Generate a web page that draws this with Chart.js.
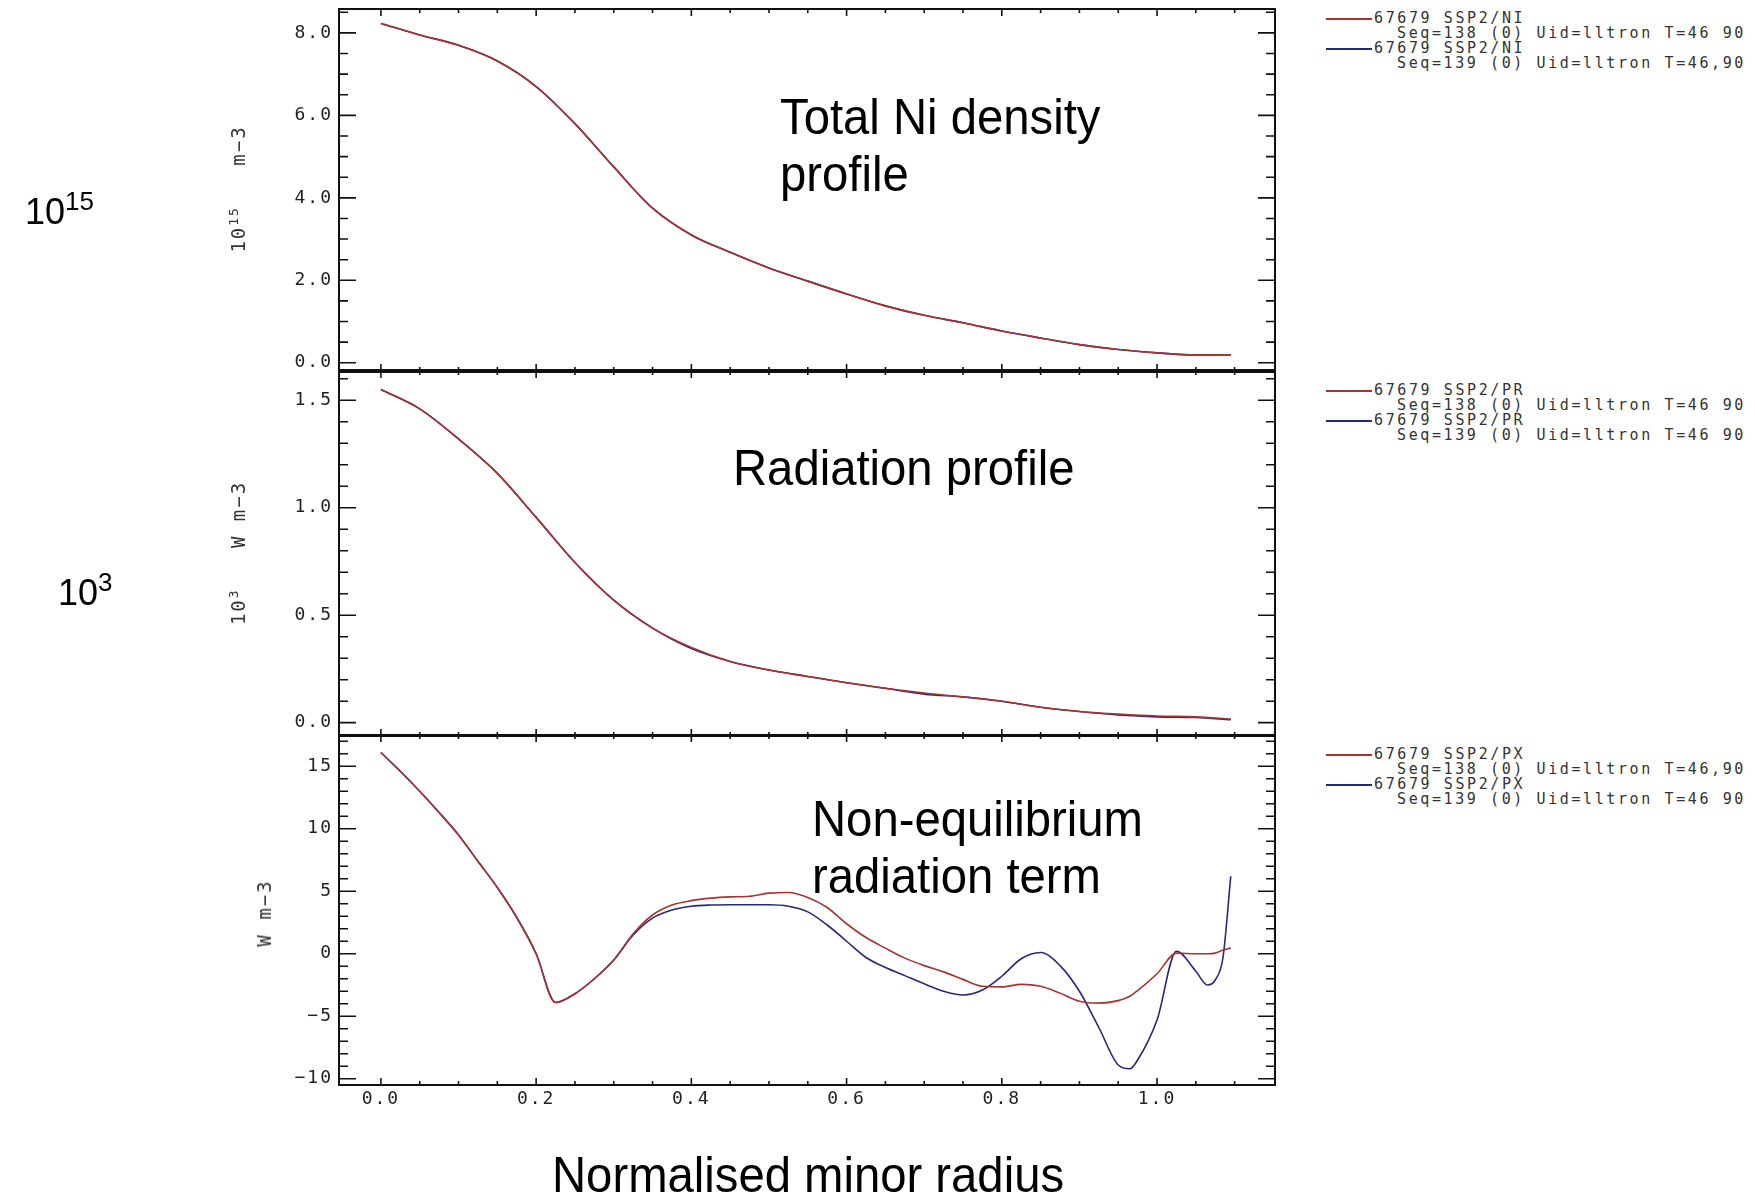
<!DOCTYPE html>
<html>
<head>
<meta charset="utf-8">
<script src="https://cdn.jsdelivr.net/npm/chart.js@4.4.1/dist/chart.umd.min.js"></script>
<style>
  body { margin: 0; background: #fff; width: 1755px; height: 1194px; position: relative; overflow: hidden;
         font-family: 'Liberation Sans', Arial, sans-serif; }
  canvas { position: absolute; left: 0; }
  .note { position: absolute; font-size: 50px; line-height: 57px; color: #000; white-space: nowrap;
          transform: scaleX(0.945); transform-origin: left top; }
  .pow { position: absolute; font-size: 36px; color: #000; line-height: 40px; }
  .pow sup { font-size: 26px; vertical-align: 0.55em; line-height: 0; }
  .ytitle { position: absolute; font-family: 'DejaVu Sans Mono', monospace; font-size: 19px; letter-spacing: 2px;
            color: #333; white-space: pre; transform: translate(-50%, -50%) rotate(-90deg); }
  .ytitle sup { font-size: 13px; line-height: 0; }
  .legend { position: absolute; left: 1326px; font-family: 'DejaVu Sans Mono', monospace; font-size: 15px;
            letter-spacing: 2.6px; color: #333; }
  .legend div { height: 15px; line-height: 15px; white-space: pre; }
  .legend .seq { padding-left: 71px; }
  .swatch { display: inline-block; width: 46px; border-top: 2px solid; vertical-align: middle; margin-right: 2px; }
</style>
</head>
<body>
<canvas id="ni" width="1290" height="380" style="top:0px"></canvas>
<canvas id="pr" width="1290" height="384" style="top:361px"></canvas>
<canvas id="px" width="1290" height="400" style="top:725px"></canvas>

<div class="pow" style="left:25px; top:192px">10<sup>15</sup></div>
<div class="pow" style="left:58px; top:573px">10<sup>3</sup></div>

<div class="ytitle" style="left:238px; top:189px">10<sup>15</sup>   m&minus;3</div>
<div class="ytitle" style="left:238px; top:553px">10<sup>3</sup>   W m&minus;3</div>
<div class="ytitle" style="left:264px; top:913px">W m&minus;3</div>

<div class="note" style="left:780px; top:89px">Total Ni density<br>profile</div>
<div class="note" style="left:733px; top:440px">Radiation profile</div>
<div class="note" style="left:812px; top:791px">Non-equilibrium<br>radiation term</div>
<div class="note" style="left:552px; top:1147px">Normalised minor radius</div>

<div class="legend" style="top:11px">
  <div><span class="swatch" style="border-color:#a83232"></span>67679 SSP2/NI</div>
  <div class="seq">Seq=138 (0) Uid=lltron T=46 90</div>
  <div><span class="swatch" style="border-color:#28287a"></span>67679 SSP2/NI</div>
  <div class="seq">Seq=139 (0) Uid=lltron T=46,90</div>
</div>
<div class="legend" style="top:383px">
  <div><span class="swatch" style="border-color:#a83232"></span>67679 SSP2/PR</div>
  <div class="seq">Seq=138 (0) Uid=lltron T=46 90</div>
  <div><span class="swatch" style="border-color:#28287a"></span>67679 SSP2/PR</div>
  <div class="seq">Seq=139 (0) Uid=lltron T=46 90</div>
</div>
<div class="legend" style="top:747px">
  <div><span class="swatch" style="border-color:#a83232"></span>67679 SSP2/PX</div>
  <div class="seq">Seq=138 (0) Uid=lltron T=46,90</div>
  <div><span class="swatch" style="border-color:#28287a"></span>67679 SSP2/PX</div>
  <div class="seq">Seq=139 (0) Uid=lltron T=46 90</div>
</div>

<script>
// normalised minor radius, top two panels
const radiusA = [0, 0.05, 0.1, 0.15, 0.2, 0.25, 0.3, 0.35, 0.4, 0.45, 0.5, 0.55, 0.6, 0.65, 0.7, 0.75, 0.8, 0.85, 0.9, 0.95, 1.0, 1.05, 1.095];

// total Ni density, 10^15 m-3
const niSeq138 = [8.23, 7.95, 7.70, 7.32, 6.70, 5.80, 4.75, 3.75, 3.10, 2.68, 2.30, 1.98, 1.67, 1.38, 1.15, 0.97, 0.77, 0.60, 0.44, 0.32, 0.24, 0.19, 0.19];
const niSeq139 = [8.23, 7.95, 7.70, 7.32, 6.70, 5.80, 4.75, 3.75, 3.10, 2.68, 2.30, 1.98, 1.67, 1.38, 1.15, 0.97, 0.77, 0.60, 0.44, 0.32, 0.24, 0.19, 0.19];

// radiation, 10^3 W m-3
const prSeq138 = [1.55, 1.46, 1.32, 1.16, 0.955, 0.745, 0.57, 0.44, 0.35, 0.285, 0.245, 0.215, 0.186, 0.16, 0.138, 0.12, 0.10, 0.072, 0.052, 0.040, 0.031, 0.027, 0.017];
const prSeq139 = [1.55, 1.46, 1.32, 1.16, 0.955, 0.745, 0.57, 0.44, 0.345, 0.285, 0.245, 0.215, 0.186, 0.16, 0.133, 0.12, 0.10, 0.072, 0.052, 0.036, 0.027, 0.024, 0.014];

// non-equilibrium radiation term, W m-3 (finer radius grid)
const radiusB = [0, 0.025, 0.05, 0.075, 0.1, 0.125, 0.15, 0.175, 0.2, 0.225, 0.25, 0.275, 0.3, 0.325, 0.35, 0.375,
  0.4, 0.425, 0.45, 0.475, 0.5, 0.525, 0.55, 0.575, 0.6, 0.625, 0.65, 0.675, 0.7, 0.725, 0.75, 0.775,
  0.8, 0.825, 0.85, 0.875, 0.9, 0.925, 0.95, 0.965, 0.975, 1.0, 1.025, 1.05, 1.065, 1.075, 1.085, 1.095];
const pxSeq138 = [16.1, 14.6, 13.0, 11.3, 9.5, 7.4, 5.3, 2.9, 0.0, -3.9, -3.2, -2.0, -0.5, 1.6, 3.1, 3.9,
  4.25, 4.45, 4.55, 4.6, 4.85, 4.9, 4.5, 3.7, 2.4, 1.3, 0.45, -0.35, -0.95, -1.45, -2.05, -2.6,
  -2.65, -2.45, -2.6, -3.15, -3.8, -3.95, -3.75, -3.4, -2.95, -1.6, 0.05, 0.0, 0.0, 0.05, 0.3, 0.45];
const pxSeq139 = [16.1, 14.6, 13.0, 11.3, 9.5, 7.4, 5.3, 2.9, 0.0, -3.9, -3.2, -2.0, -0.5, 1.5, 2.85, 3.5,
  3.8, 3.9, 3.92, 3.92, 3.92, 3.8, 3.35, 2.3, 1.0, -0.3, -1.1, -1.75, -2.4, -3.0, -3.3, -2.9,
  -1.8, -0.4, 0.1, -0.95, -3.0, -5.9, -8.9, -9.2, -8.5, -5.3, 0.2, -1.4, -2.5, -2.1, -0.3, 6.2];

// tick labels
const radiusTicks = [0, 0.2, 0.4, 0.6, 0.8, 1.0];
const niTicks = [0, 2, 4, 6, 8];
const prTicks = [0, 0.5, 1.0, 1.5];
const pxTicks = [-10, -5, 0, 5, 10, 15];

const RED = '#a83232';
const BLUE = '#28287a';
const tickFont = { family: 'DejaVu Sans Mono', size: 18 };

function stepsIn(min, max, step) {
  const out = [];
  for (let i = Math.ceil(min / step - 1e-6); i * step <= max + 1e-9; i++) out.push(+(i * step).toFixed(6));
  return out;
}
const onStep = (v, step) => Math.abs(v / step - Math.round(v / step)) < 1e-6;

// wide IDL-like tick lettering
const wideText = {
  id: 'wideText',
  beforeLayout(chart) { chart.ctx.letterSpacing = '2px'; },
  beforeDraw(chart) { chart.ctx.letterSpacing = '2px'; }
};

// IDL style frame: box plus inward ticks on all four sides
const frameTicks = {
  id: 'frameTicks',
  afterDatasetsDraw(chart, args, opts) {
    const { ctx, chartArea: a, scales: { x, y } } = chart;
    ctx.save();
    ctx.strokeStyle = '#111';
    ctx.lineWidth = 1.6;
    ctx.beginPath();
    for (const v of stepsIn(y.min, y.max, opts.yMinor)) {
      const len = onStep(v, opts.yMajor) ? 17 : 9;
      const py = y.getPixelForValue(v);
      ctx.moveTo(a.left, py); ctx.lineTo(a.left + len, py);
      ctx.moveTo(a.right, py); ctx.lineTo(a.right - len, py);
    }
    for (const v of stepsIn(0, 1.12, 0.05)) {
      const len = onStep(v, 0.2) ? 7 : 4;
      const px = x.getPixelForValue(v);
      ctx.moveTo(px, a.top); ctx.lineTo(px, a.top + len);
      ctx.moveTo(px, a.bottom); ctx.lineTo(px, a.bottom - len);
    }
    ctx.stroke();
    ctx.lineWidth = 2;
    ctx.strokeRect(a.left, a.top, a.right - a.left, a.bottom - a.top);
    if (opts.topWidth) {
      ctx.lineWidth = opts.topWidth;
      ctx.beginPath();
      ctx.moveTo(a.left, a.top); ctx.lineTo(a.right, a.top);
      ctx.stroke();
    }
    ctx.restore();
  }
};

function series(xs, ys, color) {
  return {
    data: xs.map((x, i) => ({ x: x, y: ys[i] })),
    borderColor: color,
    borderWidth: 1.6,
    pointRadius: 0,
    cubicInterpolationMode: 'monotone',
    fill: false
  };
}

function panel(id, xs, red, blue, yMin, yMax, yTicks, yMajor, yMinor, fmt, showX, padTop, topWidth) {
  new Chart(document.getElementById(id), {
    type: 'line',
    data: { datasets: [series(xs, red, RED), series(xs, blue, BLUE)] },
    options: {
      responsive: false,
      animation: false,
      layout: { padding: { top: padTop, bottom: showX ? 10 : 9, left: 0, right: 15 } },
      plugins: {
        legend: { display: false },
        tooltip: { enabled: false },
        frameTicks: { yMajor: yMajor, yMinor: yMinor, topWidth: topWidth }
      },
      scales: {
        x: {
          type: 'linear', min: -0.054, max: 1.152, display: showX,
          grid: { display: false, drawTicks: false }, border: { display: false },
          afterBuildTicks: s => { s.ticks = radiusTicks.map(v => ({ value: v })); },
          afterFit: s => { s.height = showX ? 30 : 0; s.paddingLeft = 0; s.paddingRight = 0; },
          ticks: { font: tickFont, color: '#222', padding: 4, maxRotation: 0, autoSkip: false,
                   callback: v => v.toFixed(1) }
        },
        y: {
          type: 'linear', min: yMin, max: yMax,
          grid: { display: false, drawTicks: false }, border: { display: false },
          afterBuildTicks: s => { s.ticks = yTicks.map(v => ({ value: v })); },
          afterFit: s => { s.width = 339; s.paddingTop = 0; s.paddingBottom = 0; },
          ticks: { font: tickFont, color: '#222', padding: 6, autoSkip: false, callback: fmt }
        }
      }
    },
    plugins: [wideText, frameTicks]
  });
}

const oneDp = v => v.toFixed(1);
const intMinus = v => (v < 0 ? '\u2212' + Math.abs(v) : String(v));

panel('ni', radiusA, niSeq138, niSeq139, -0.2, 8.58, niTicks, 2, 0.5, oneDp, false, 9, 0);
panel('pr', radiusA, prSeq138, prSeq139, -0.062, 1.636, prTicks, 0.5, 0.1, oneDp, false, 10, 4);
panel('px', radiusB, pxSeq138, pxSeq139, -10.5, 17.5, pxTicks, 5, 1, intMinus, true, 10, 0);
</script>
</body>
</html>
